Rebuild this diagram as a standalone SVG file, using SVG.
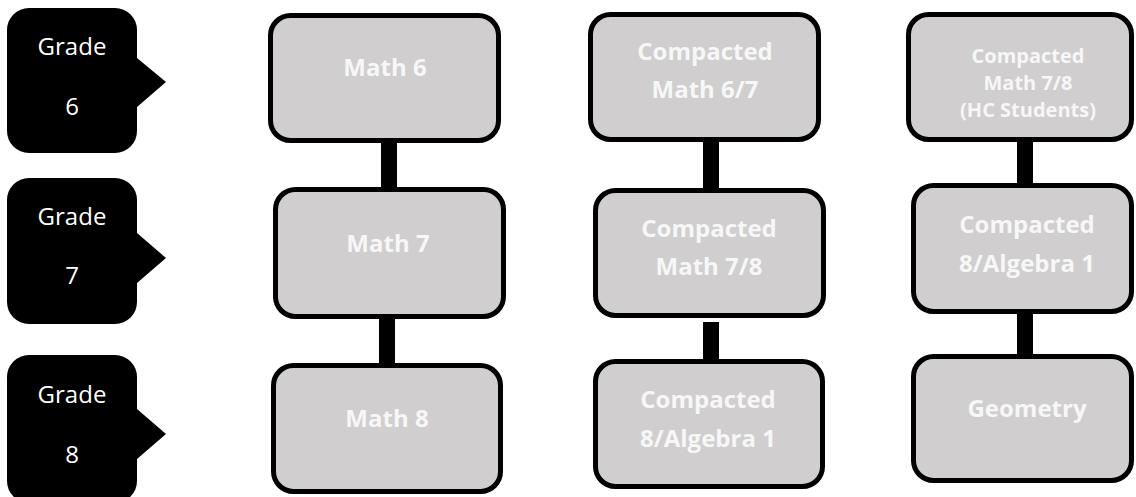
<svg xmlns="http://www.w3.org/2000/svg" width="1136" height="497" viewBox="0 0 1136 497">
<style>
.grade{fill:#000}
.gt{font-family:"Open Sans","Noto Sans",sans-serif;font-size:24px;fill:#fff;text-anchor:middle}
.box{fill:#d0cece;stroke:#000;stroke-width:5}
.bt{font-family:"Open Sans","Noto Sans",sans-serif;font-weight:bold;font-size:24px;fill:#f7f7f7;text-anchor:middle}
.bs{font-size:20px}
.conn{fill:#000}
</style>
<rect x="0" y="0" width="1136" height="497" fill="#fff"/>
<g id="connectors">
<rect class="conn" x="381" y="140" width="16" height="50"/>
<rect class="conn" x="379" y="316" width="16" height="50"/>
<rect class="conn" x="703" y="140" width="16" height="51"/>
<rect class="conn" x="703" y="322" width="16" height="42"/>
<rect class="conn" x="1017" y="140" width="16" height="46"/>
<rect class="conn" x="1017" y="312" width="16" height="45"/>
</g>
<g id="grade6">
<rect class="grade" x="7" y="8" width="130" height="145" rx="22"/>
<polygon class="grade" points="137,58 166,82 137,107"/>
<text class="gt" x="72" y="55">Grade</text>
<text class="gt" x="72" y="115">6</text>
</g>
<g id="grade7">
<rect class="grade" x="7" y="178" width="130" height="146" rx="22"/>
<polygon class="grade" points="137,233 166,258 137,283"/>
<text class="gt" x="72" y="225">Grade</text>
<text class="gt" x="72" y="284">7</text>
</g>
<g id="grade8">
<rect class="grade" x="7" y="355" width="130" height="148" rx="22"/>
<polygon class="grade" points="137,409 166,434 137,459"/>
<text class="gt" x="72" y="403">Grade</text>
<text class="gt" x="72" y="463">8</text>
</g>
<g id="math6">
<rect class="box" x="270.5" y="15.5" width="228" height="125" rx="20"/>
<text class="bt" x="385" y="76">Math 6</text>
</g>
<g id="math7">
<rect class="box" x="275.5" y="189.5" width="228" height="127" rx="20"/>
<text class="bt" x="388" y="252">Math 7</text>
</g>
<g id="math8">
<rect class="box" x="273.5" y="365.5" width="227" height="126" rx="20"/>
<text class="bt" x="387" y="427">Math 8</text>
</g>
<g id="cm67">
<rect class="box" x="590.5" y="14.5" width="228" height="125" rx="20"/>
<text class="bt" x="705" y="60">Compacted</text>
<text class="bt" x="705" y="98">Math 6/7</text>
</g>
<g id="cm78">
<rect class="box" x="595.5" y="190.5" width="228" height="125" rx="20"/>
<text class="bt" x="709" y="237">Compacted</text>
<text class="bt" x="709" y="275">Math 7/8</text>
</g>
<g id="c8a1">
<rect class="box" x="595.5" y="361.5" width="227" height="125" rx="20"/>
<text class="bt" x="708" y="408">Compacted</text>
<text class="bt" x="708" y="447">8/Algebra 1</text>
</g>
<g id="cm78hc">
<rect class="box" x="908.5" y="14.5" width="223" height="125" rx="20"/>
<text class="bt bs" x="1028" y="63">Compacted</text>
<text class="bt bs" x="1028" y="90">Math 7/8</text>
<text class="bt bs" x="1028" y="117">(HC Students)</text>
</g>
<g id="c8a1b">
<rect class="box" x="913.5" y="185.5" width="218" height="126" rx="20"/>
<text class="bt" x="1027" y="233">Compacted</text>
<text class="bt" x="1027" y="272">8/Algebra 1</text>
</g>
<g id="geometry">
<rect class="box" x="913.5" y="356.5" width="218" height="124" rx="20"/>
<text class="bt" x="1027" y="417">Geometry</text>
</g>
</svg>
